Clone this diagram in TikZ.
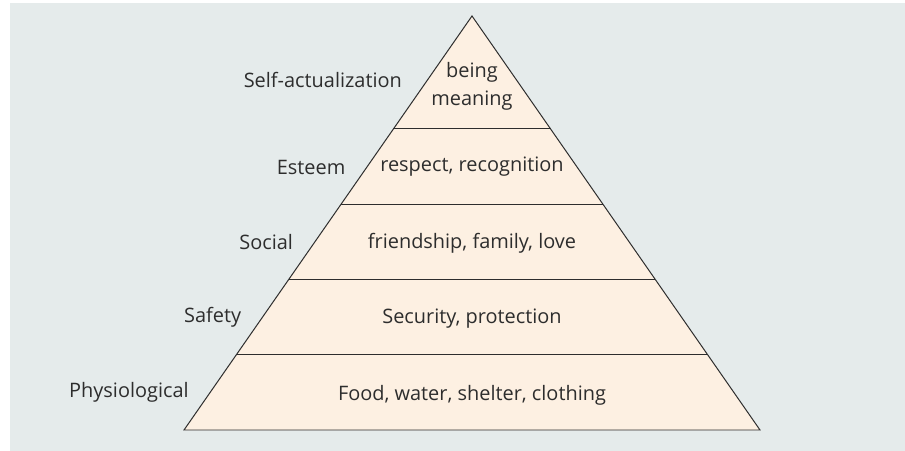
\documentclass[tikz,border=0pt]{standalone}
\usepackage{fontspec}
\setmainfont{Open Sans}
\usetikzlibrary{calc}
\definecolor{panel}{RGB}{229,235,235}
\definecolor{cream}{RGB}{253,240,226}
\definecolor{ink}{RGB}{45,45,45}
\tikzset{
  tier/.style={draw=ink,line width=1pt},
  need/.style={text=ink,font=\fontsize{20}{23}\selectfont,align=center},
  level/.style={text=ink,font=\fontsize{20}{23}\selectfont,anchor=east}
}

\begin{document}
\begin{tikzpicture}[x=1bp,y=-1bp]
    \useasboundingbox (0,0) rectangle (905,451);
    \fill[panel] (10,3) rectangle (905,451);

    \coordinate (apex) at (472,16);
    \coordinate (bl) at (184,430);
    \coordinate (br) at (760,430);
    \fill[cream] (apex) -- (bl) -- (br) -- cycle;

    % dividing lines between the levels
    \foreach \t/\n in {0.2727/a,0.4545/b,0.6364/c,0.8182/d}{
      \coordinate (l\n) at ($(apex)!\t!(bl)$);
      \coordinate (r\n) at ($(apex)!\t!(br)$);
      \draw[tier] (l\n) -- (r\n);
    }
    \draw[tier,line join=miter] (apex) -- (bl) -- (br) -- cycle;

    % needs inside the pyramid
    \node[need] (top) at (472,86) {being\\[5pt]meaning};
    \node[need] (esteem) at (472,167) {respect, recognition};
    \node[need] (social) at (472,243) {friendship, family, love};
    \node[need] (safety) at (472,319) {Security, protection};
    \node[need] (body) at (472,395) {Food, water, shelter, clothing};

    % names of the levels
    \node[level] (selfname) at ($(apex)!0.155!(bl)+(-22,0)$) {Self-actualization};
    \node[level] (esteemname) at ($(apex)!0.365!(bl)+(-18,0)$) {Esteem};
    \node[level] (socialname) at ($(apex)!0.547!(bl)+(-18,0)$) {Social};
    \node[level] (safetyname) at ($(apex)!0.727!(bl)+(-18,0)$) {Safety};
    \node[level] (bodyname) at ($(apex)!0.909!(bl)+(-18,0)$) {Physiological};
\end{tikzpicture}
\end{document}
